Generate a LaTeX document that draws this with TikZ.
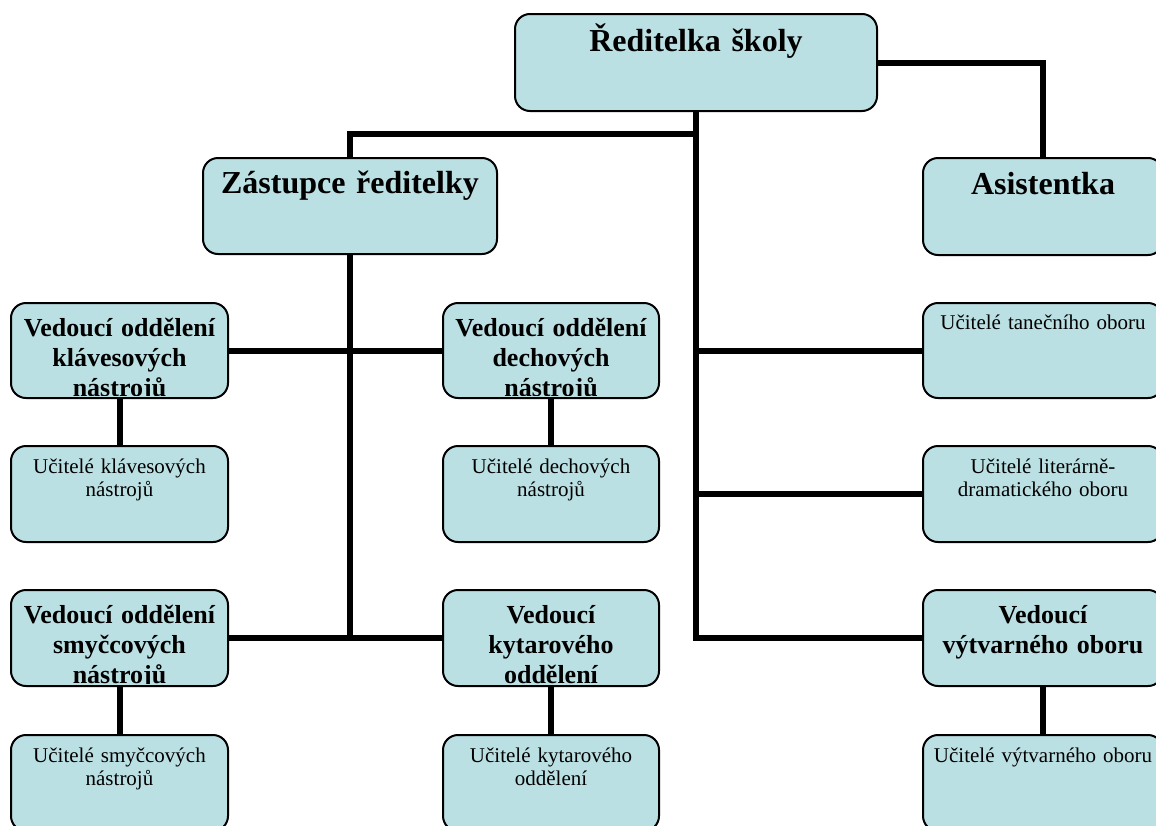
\documentclass[tikz,border=0pt]{standalone}
\usepackage{fontspec}
\setmainfont{Liberation Serif}
\pgfdeclarelayer{background}
\pgfsetlayers{background,main}
\definecolor{boxfill}{RGB}{187,224,227}
\tikzset{
  obox/.style={draw=black, line width=2pt, rounded corners=15pt, fill=boxfill,
    anchor=north west, inner sep=0pt, outer sep=0pt},
  conn/.style={draw=black, line width=6pt},
  titlefont/.style={font=\fontsize{32}{36}\selectfont\bfseries},
  headfont/.style={font=\fontsize{26}{30}\selectfont\bfseries},
  plainfont/.style={font=\fontsize{21}{23}\selectfont},
}
% \orgbox{name}{left}{top}{width}{height}{font style}{first baseline below top}{text}
\newcommand\orgbox[8]{%
  \node[obox, minimum width=#4pt, minimum height=#5pt,
    path picture={
      \clip ([shift={(2pt,-2pt)}]path picture bounding box.north west)
        rectangle ([shift={(-2pt,2.5pt)}]path picture bounding box.south east);
      \node[anchor=base, inner sep=0pt, text width=#4pt, align=center, #6]
        at ([yshift=-#7pt]path picture bounding box.north) {#8};
    }] (#1) at (#2,#3) {};%
}
\begin{document}
\begin{tikzpicture}[x=1pt, y=-1pt]
  \useasboundingbox (0,0) rectangle (1156,825);
  \clip (0,0) rectangle (1156,825);

  % management
  \orgbox{R}{515}{14}{362}{97}{titlefont}{37}{Ředitelka školy}
  \orgbox{Z}{203}{158}{294}{96}{titlefont}{35}{Zástupce ředitelky}
  \orgbox{A}{923}{158}{240}{97}{titlefont}{36}{Asistentka}

  % first row
  \orgbox{kla}{11}{303}{217}{95}{headfont}{33}{Vedoucí oddělení\\klávesových\\nástrojů}
  \orgbox{dech}{443}{303}{216}{95}{headfont}{33}{Vedoucí oddělení\\dechových\\nástrojů}
  \orgbox{tan}{923}{303}{240}{95}{plainfont}{26}{Učitelé tanečního oboru}

  % second row
  \orgbox{ukla}{11}{446}{217}{96}{plainfont}{27}{Učitelé klávesových\\nástrojů}
  \orgbox{udech}{443}{446}{216}{96}{plainfont}{27}{Učitelé dechových\\nástrojů}
  \orgbox{lit}{923}{446}{240}{96}{plainfont}{27}{Učitelé literárně-\\dramatického oboru}

  % third row
  \orgbox{smy}{11}{590}{217}{96}{headfont}{33}{Vedoucí oddělení\\smyčcových\\nástrojů}
  \orgbox{kyt}{443}{590}{216}{96}{headfont}{33}{Vedoucí\\kytarového\\oddělení}
  \orgbox{vyt}{923}{590}{240}{96}{headfont}{33}{Vedoucí\\výtvarného oboru}

  % fourth row
  \orgbox{usmy}{11}{735}{217}{96}{plainfont}{27}{Učitelé smyčcových\\nástrojů}
  \orgbox{ukyt}{443}{735}{216}{96}{plainfont}{27}{Učitelé kytarového\\oddělení}
  \orgbox{uvyt}{923}{735}{240}{96}{plainfont}{27}{Učitelé výtvarného oboru}

  \begin{pgfonlayer}{background}
    \fill[white] (0,0) rectangle (1156,825);
    \coordinate (jz) at (R.south |- 0,134);
    \draw[conn] (R.east) -| (A.north);
    \draw[conn] (R.south) -- (R.south |- vyt.west) -- (vyt.west);
    \draw[conn] (Z.north) |- (jz);
    \draw[conn] (R.south |- tan.west) -- (tan.west);
    \draw[conn] (R.south |- lit.west) -- (lit.west);
    \draw[conn] (Z.south) -- (Z.south |- kyt.west);
    \draw[conn] (kla.east) -- (dech.west);
    \draw[conn] (smy.east) -- (kyt.west);
    \draw[conn] (kla.south) -- (ukla.north);
    \draw[conn] (dech.south) -- (udech.north);
    \draw[conn] (smy.south) -- (usmy.north);
    \draw[conn] (kyt.south) -- (ukyt.north);
    \draw[conn] (vyt.south) -- (uvyt.north);
  \end{pgfonlayer}
\end{tikzpicture}
\end{document}
